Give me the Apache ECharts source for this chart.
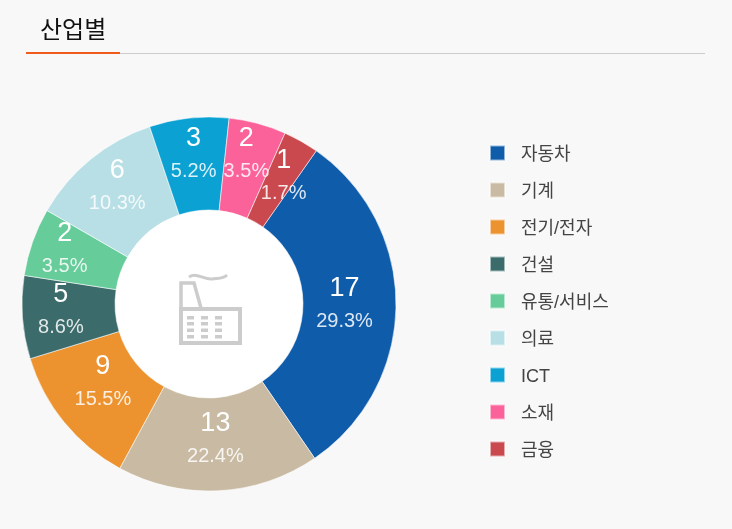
<!DOCTYPE html>
<html><head><meta charset="utf-8">
<style>html,body{margin:0;padding:0;background:#f8f8f8}#c{width:732px;height:529px}</style>
<script src="https://cdn.jsdelivr.net/npm/echarts@6/dist/echarts.min.js"></script>
</head><body><div id="c"></div>
<script>
const categories = ['자동차','기계','전기/전자','건설','유통/서비스','의료','ICT','소재','금융'];
const counts = [17,13,9,5,2,6,3,2,1];
const shareLabels = ['29.3%','22.4%','15.5%','8.6%','3.5%','10.3%','5.2%','3.5%','1.7%'];
// Slice sweep as drawn in the picture (degrees).
const arcSizes = [110.6,62.9,44.5,25.8,21.2,41.5,24.7,17.8,11];
const colors = ['#0f5cab','#c9bba3','#ec9330','#3b6b6b','#66cc99','#b7dfe5','#0ba2d3','#fb6299','#c9494f'];
const titleText = '산업별';
const labelNudges = [[-8,0],[-1,-8],[5,-12],[-5,-4],[-9,-7],[-1,-6],[0,-7],[0,-11],[4,-3]];
const FONT = '"Liberation Sans","Noto Sans CJK KR",sans-serif';
const ICON = '#cccccc';

const windowXs = [187,201,215], windowYs = [316,322,328.5,335];
const windows = [];
windowXs.forEach(x => windowYs.forEach(y => windows.push({
  type:'rect', z:10, shape:{x, y, width:7, height:3.5}, style:{fill:ICON}
})));

const chart = echarts.init(document.getElementById('c'), null, {renderer:'canvas'});
chart.setOption({
  animation:false,
  backgroundColor:'#f8f8f8',
  color:colors,
  title:{text:titleText, left:35, top:14, textStyle:{fontFamily:FONT, fontSize:24, fontWeight:'normal', color:'#111'}},
  legend:{
    orient:'vertical', left:484, top:137, itemWidth:15, itemHeight:15, itemGap:15,
    icon:'rect', data:categories, selectedMode:false,
    formatter:'{t|{name}}',
    textStyle:{fontFamily:FONT, fontSize:18, color:'#444',
      rich:{t:{fontFamily:FONT, fontSize:18, color:'#444', lineHeight:18, padding:[4,0,0,11]}}}
  },
  series:[{
    type:'pie', center:[209,304], radius:[94,187], startAngle:55, clockwise:true,
    avoidLabelOverlap:false, silent:true, minShowLabelAngle:0,
    labelLayout:{hideOverlap:false},
    itemStyle:{borderColor:'rgba(255,255,255,0.55)', borderWidth:1},
    label:{show:true, position:'inside', color:'#fff', fontFamily:FONT,
      formatter:p=>`{n|${counts[p.dataIndex]}}\n{s|${shareLabels[p.dataIndex]}}`,
      rich:{n:{fontFamily:FONT,fontSize:27,lineHeight:34,color:'#fff'},
            s:{fontFamily:FONT,fontSize:20,lineHeight:32,color:'rgba(255,255,255,0.85)'}}},
    labelLine:{show:false},
    data:categories.map((name,i)=>({name, value:arcSizes[i], label:{offset:labelNudges[i]}}))
  }],
  graphic:[
    {type:'rect', shape:{x:26,y:53,width:679,height:1}, style:{fill:'#cccccc'}},
    {type:'rect', shape:{x:26,y:52,width:94,height:2}, style:{fill:'#f05a1a'}},
    {type:'circle', z:1, shape:{cx:209,cy:304,r:94}, style:{fill:'#ffffff'}},
    {type:'rect', z:10, shape:{x:181,y:309,width:59,height:34}, style:{fill:'none',stroke:ICON,lineWidth:4}},
    {type:'polyline', z:10, shape:{points:[[181,308],[181,283],[194,283],[201,308]]}, style:{fill:'none',stroke:ICON,lineWidth:3.5}},
    {type:'bezierCurve', z:10, shape:{x1:189,y1:277,cpx1:197,cpy1:272,cpx2:204,cpy2:280,x2:212,y2:279}, style:{fill:'none',stroke:ICON,lineWidth:3}},
    {type:'bezierCurve', z:10, shape:{x1:212,y1:279,cpx1:218,cpy1:278,cpx2:223,cpy2:279,x2:227,y2:275}, style:{fill:'none',stroke:ICON,lineWidth:3}},
    ...windows
  ]
});
</script></body></html>
